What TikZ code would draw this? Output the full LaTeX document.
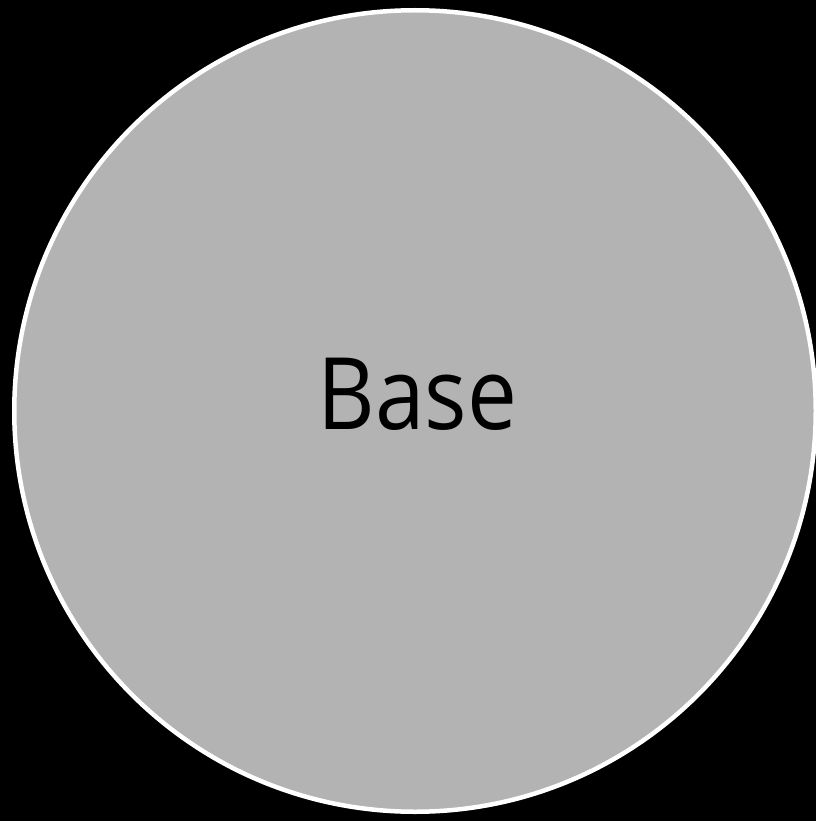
\documentclass[tikz,border=0pt]{standalone}
\usepackage{fontspec}
\setmainfont{Open Sans}
\usetikzlibrary{positioning}
\definecolor{disc}{RGB}{179,179,179}
\tikzset{
  base disc/.style={circle,draw=white,fill=disc,line width=4.5pt,
    minimum size=801.5pt,inner sep=0pt},
  big label/.style={font=\fontsize{100}{110}\selectfont,text=black,inner sep=0pt,
    xscale=0.89},
}
\begin{document}
\begin{tikzpicture}[x=1pt,y=1pt]
  \fill[black] (0,0) rectangle (816,-821);
  \useasboundingbox (0,0) rectangle (816,-821);
  \node[base disc] (disc) at (415,-411) {};
  \node[big label] (base) at (417.5,-394) {Base};
\end{tikzpicture}
\end{document}
